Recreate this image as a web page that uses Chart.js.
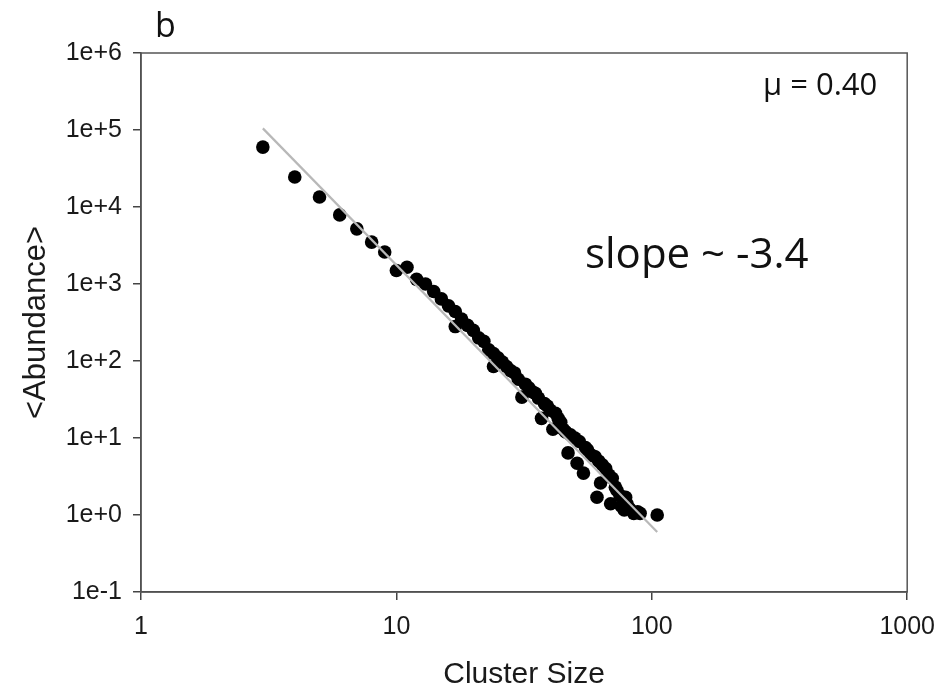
<!DOCTYPE html>
<html>
<head>
<meta charset="utf-8">
<script src="https://cdn.jsdelivr.net/npm/chart.js@4/dist/chart.umd.min.js"></script>
<style>
  html, body { margin: 0; padding: 0; background: #ffffff; }
  #wrap { width: 947px; height: 693px; position: relative; }
</style>
</head>
<body>
<div id="wrap"><canvas id="c" width="947" height="693"></canvas></div>
<script>
// ---- data ----
const clusterSizes = [3, 4, 5, 6, 7, 8, 9, 10, 11, 12, 13, 14, 15, 16, 17, 17, 18, 19, 20, 21, 22, 23, 24, 24, 25, 26, 27, 28, 29, 30, 31, 32, 33, 34, 35, 36, 37, 38, 39, 40, 41, 42, 43, 44, 45, 46, 47, 48, 50, 51, 52, 54, 55, 56, 58, 60, 61, 62, 63, 64, 66, 68, 69, 70, 72, 73, 75, 76, 78, 79, 80, 82, 85, 88, 90, 105];
const abundance = [60000, 24500, 13500, 7900, 5200, 3500, 2600, 1500, 1650, 1150, 1000, 800, 640, 520, 280, 440, 350, 290, 250, 200, 180, 140, 85, 125, 110, 97, 85, 75, 70, 58, 34, 50, 45, 40, 38, 33, 18, 28, 26, 23, 13, 21, 18, 16, 13, 12, 6.4, 11, 10, 4.7, 9, 3.5, 7.5, 7, 6, 5.7, 1.7, 5, 2.6, 4.5, 4, 3.3, 1.4, 3, 2.3, 2.1, 1.8, 1.3, 1.16, 1.7, 1.4, 1.2, 1.05, 1.1, 1.05, 1.0];
const fitX = [3, 105];
const fitY = [105000, 0.6];
const xTickValues = [1, 10, 100, 1000];
const xTickLabels = ['1', '10', '100', '1000'];
const yTickValues = [0.1, 1, 10, 100, 1000, 10000, 100000, 1000000];
const yTickLabels = ['1e-1', '1e+0', '1e+1', '1e+2', '1e+3', '1e+4', '1e+5', '1e+6'];
const xTitle = 'Cluster Size';
const yTitle = '<Abundance>';
const panelLabel = 'b';
const muLabel = 'μ = 0.40';
const slopeLabel = 'slope ~ -3.4';

const points = clusterSizes.map((x, i) => ({ x: x, y: abundance[i] }));
const fitPoints = fitX.map((x, i) => ({ x: x, y: fitY[i] }));

const frameAndText = {
  id: 'frameAndText',
  beforeDraw(chart) {
    const ctx = chart.ctx;
    ctx.save();
    ctx.fillStyle = '#ffffff';
    ctx.fillRect(0, 0, chart.width, chart.height);
    ctx.restore();
  },
  afterDraw(chart) {
    const ctx = chart.ctx;
    const a = chart.chartArea;
    ctx.save();
    ctx.strokeStyle = '#555555';
    ctx.lineWidth = 1.5;
    ctx.strokeRect(a.left, a.top, a.right - a.left, a.bottom - a.top);
    ctx.fillStyle = '#111111';
    ctx.textBaseline = 'alphabetic';
    ctx.textAlign = 'left';
    ctx.font = '34px "Open Sans"';
    ctx.fillText(panelLabel, a.left + 14, 37);
    ctx.font = '31px "Open Sans"';
    ctx.fillText(muLabel, a.left + 622, 95);
    ctx.font = '42px "Open Sans"';
    ctx.fillText(slopeLabel, a.left + 444, 268);
    ctx.restore();
  }
};

function setTicks(values) {
  return function (scale) {
    scale.ticks = values.map(v => ({ value: v, major: true }));
  };
}

new Chart(document.getElementById('c'), {
  type: 'scatter',
  data: {
    datasets: [
      {
        label: 'fit',
        data: fitPoints,
        showLine: true,
        borderColor: '#b8b8b8',
        borderWidth: 2.2,
        pointRadius: 0,
        pointHoverRadius: 0,
        fill: false
      },
      {
        label: 'data',
        data: points,
        showLine: false,
        backgroundColor: '#000000',
        borderColor: '#000000',
        borderWidth: 0,
        pointRadius: 6.8,
        pointHoverRadius: 6.8
      }
    ]
  },
  options: {
    responsive: false,
    animation: false,
    devicePixelRatio: 1,
    layout: { padding: { top: 53, right: 36, left: 0, bottom: 0 } },
    plugins: {
      legend: { display: false },
      tooltip: { enabled: false },
      title: { display: false }
    },
    scales: {
      x: {
        type: 'logarithmic',
        position: 'bottom',
        min: 1,
        max: 1000,
        afterBuildTicks: setTicks(xTickValues),
        afterFit(scale) { scale.height = 101; },
        grid: { drawOnChartArea: false, drawTicks: true, tickLength: 8, color: '#444444', lineWidth: 1.5 },
        border: { display: true, color: '#444444', width: 1.5 },
        ticks: {
          autoSkip: false,
          maxRotation: 0,
          padding: 12,
          color: '#1a1a1a',
          font: { family: '"Liberation Sans", Arial, sans-serif', size: 25 },
          callback: function (value) {
            const i = xTickValues.indexOf(value);
            return i >= 0 ? xTickLabels[i] : '';
          }
        },
        title: {
          display: true,
          text: xTitle,
          color: '#1a1a1a',
          font: { family: '"Liberation Sans", Arial, sans-serif', size: 30 },
          padding: { top: 0, bottom: 0 }
        }
      },
      y: {
        type: 'logarithmic',
        position: 'left',
        min: 0.1,
        max: 1000000,
        afterBuildTicks: setTicks(yTickValues),
        afterFit(scale) { scale.width = 141; },
        grid: { drawOnChartArea: false, drawTicks: true, tickLength: 8, color: '#444444', lineWidth: 1.5 },
        border: { display: true, color: '#444444', width: 1.5 },
        ticks: {
          autoSkip: false,
          padding: 11,
          color: '#1a1a1a',
          font: { family: '"Liberation Sans", Arial, sans-serif', size: 25 },
          callback: function (value) {
            const i = yTickValues.findIndex(v => Math.abs(Math.log10(v) - Math.log10(value)) < 1e-6);
            return i >= 0 ? yTickLabels[i] : '';
          }
        },
        title: {
          display: true,
          text: yTitle,
          color: '#1a1a1a',
          font: { family: '"Liberation Sans", Arial, sans-serif', size: 31 },
          padding: { top: 18, bottom: 0 }
        }
      }
    }
  },
  plugins: [frameAndText]
});
</script>
</body>
</html>
